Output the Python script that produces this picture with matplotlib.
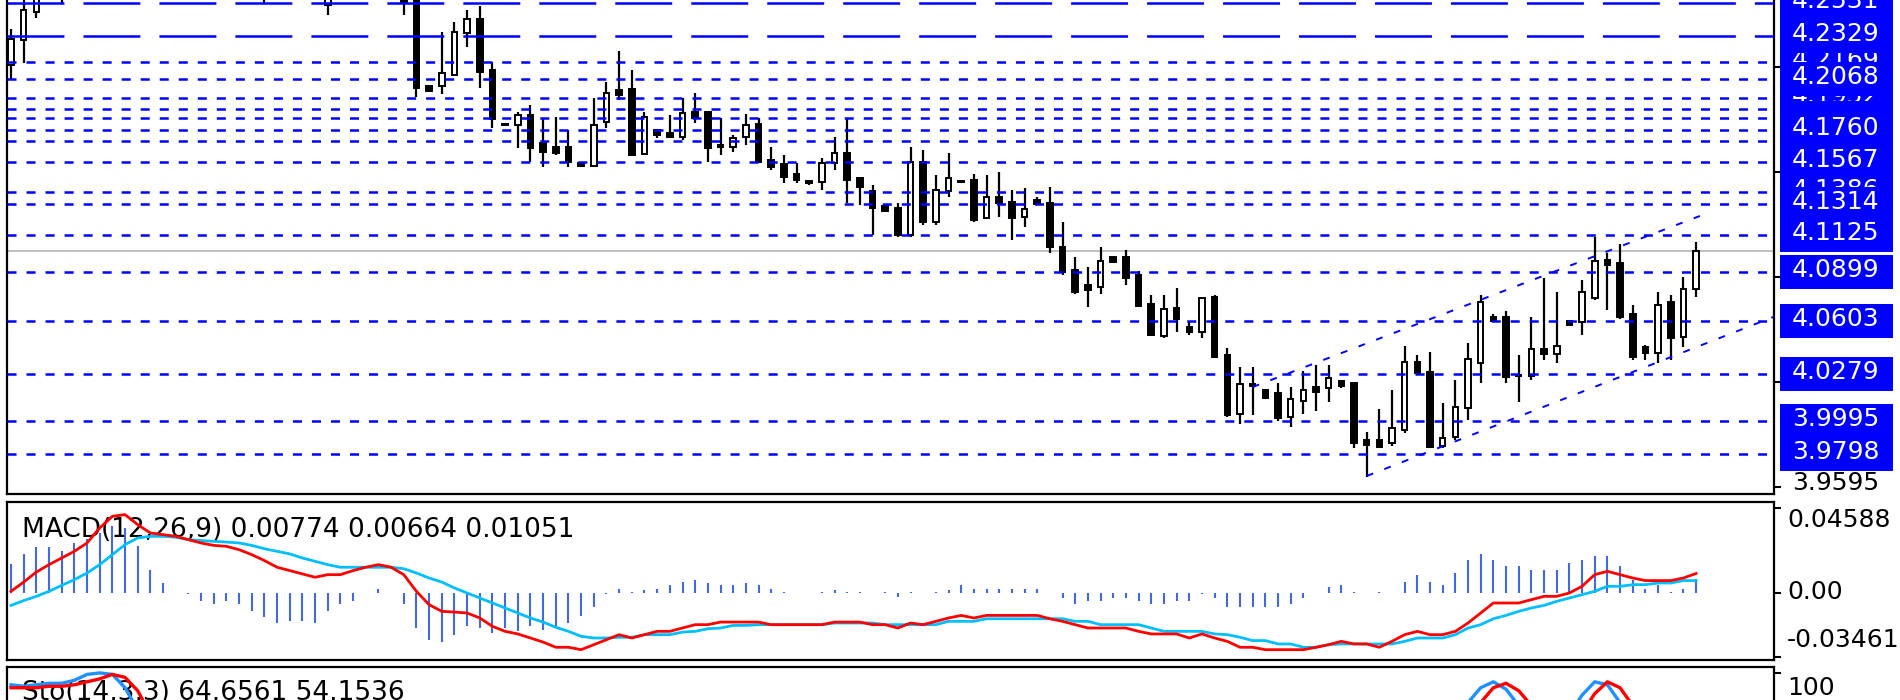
import matplotlib
matplotlib.use("Agg")
import matplotlib.pyplot as plt
from matplotlib.patches import Rectangle
import numpy as np

plt.rcParams["font.family"] = ["DejaVu Sans"]
plt.rcParams["lines.scale_dashes"] = False

# ---------------- price data (OHLC) ----------------
opens = [4.2154, 4.2305, 4.2474, 4.2600, 4.2660, 4.2590, 4.2680, 4.2760, 4.2810, 4.2860,
         4.2790, 4.2720, 4.2680, 4.2700, 4.2660, 4.2690, 4.2640, 4.2620, 4.2650, 4.2610,
         4.2600, 4.2580, 4.2620, 4.2650, 4.2680, 4.2517, 4.2660, 4.2690, 4.2650, 4.2620,
         4.2600, 4.2590, 4.2560, 4.2026, 4.2026, 4.2093, 4.2347, 4.2432, 4.2123, 4.1796,
         4.1790, 4.1850, 4.1681, 4.1657, 4.1657, 4.1560, 4.1542, 4.1808, 4.2002, 4.2008,
         4.1614, 4.1760, 4.1741, 4.1717, 4.1869, 4.1869, 4.1669, 4.1657, 4.1717, 4.1796,
         4.1578, 4.1554, 4.1493, 4.1451, 4.1445, 4.1560, 4.1620, 4.1469, 4.1390, 4.1299,
         4.1287, 4.1124, 4.1566, 4.1202, 4.1390, 4.1451, 4.1457, 4.1227, 4.1354, 4.1324,
         4.1233, 4.1336, 4.1317, 4.1051, 4.0912, 4.0821, 4.0809, 4.0990, 4.0990, 4.0881,
         4.0706, 4.0512, 4.0681, 4.0566, 4.0536, 4.0748, 4.0397, 4.0039, 4.0221, 4.0185,
         4.0167, 4.0021, 4.0118, 4.0203, 4.0197, 4.0239, 4.0227, 3.9882, 3.9882, 3.9864,
         3.9943, 4.0354, 4.0294, 3.9846, 3.9900, 4.0076, 4.0348, 4.0627, 4.0627, 4.0276,
         4.0270, 4.0433, 4.0403, 4.0603, 4.0597, 4.0742, 4.0972, 4.0954, 4.0645, 4.0445,
         4.0409, 4.0718, 4.0506, 4.0796]
highs = [4.2371, 4.2560, 4.2650, 4.2690, 4.2720, 4.2700, 4.2790, 4.2840, 4.2900, 4.2920,
         4.2830, 4.2780, 4.2740, 4.2760, 4.2720, 4.2730, 4.2700, 4.2680, 4.2690, 4.2660,
         4.2650, 4.2640, 4.2680, 4.2700, 4.2720, 4.2700, 4.2720, 4.2740, 4.2700, 4.2680,
         4.2660, 4.2650, 4.2600, 4.2032, 4.2353, 4.2414, 4.2486, 4.2511, 4.2171, 4.1800,
         4.1869, 4.1911, 4.1832, 4.1838, 4.1760, 4.1563, 4.1953, 4.2050, 4.2238, 4.2123,
         4.1869, 4.1762, 4.1850, 4.1953, 4.1984, 4.1871, 4.1832, 4.1729, 4.1857, 4.1832,
         4.1657, 4.1608, 4.1560, 4.1453, 4.1590, 4.1717, 4.1832, 4.1471, 4.1426, 4.1301,
         4.1317, 4.1657, 4.1638, 4.1487, 4.1620, 4.1453, 4.1493, 4.1487, 4.1505, 4.1396,
         4.1408, 4.1354, 4.1414, 4.1202, 4.0990, 4.0930, 4.1051, 4.0993, 4.1033, 4.0906,
         4.0760, 4.0760, 4.0803, 4.0597, 4.0745, 4.0760, 4.0439, 4.0324, 4.0324, 4.0188,
         4.0227, 4.0203, 4.0300, 4.0336, 4.0336, 4.0242, 4.0230, 3.9930, 4.0070, 4.0185,
         4.0451, 4.0397, 4.0415, 4.0106, 4.0245, 4.0470, 4.0760, 4.0645, 4.0663, 4.0397,
         4.0627, 4.0863, 4.0778, 4.0606, 4.0851, 4.1112, 4.1015, 4.1069, 4.0700, 4.0457,
         4.0778, 4.0760, 4.0870, 4.1081]
lows = [4.2062, 4.2166, 4.2438, 4.2570, 4.2529, 4.2575, 4.2650, 4.2700, 4.2770, 4.2760,
        4.2700, 4.2650, 4.2620, 4.2640, 4.2600, 4.2610, 4.2590, 4.2580, 4.2590, 4.2570,
        4.2529, 4.2560, 4.2590, 4.2610, 4.2590, 4.2456, 4.2600, 4.2620, 4.2580, 4.2570,
        4.2560, 4.2456, 4.1959, 4.1990, 4.1978, 4.2090, 4.2262, 4.2014, 4.1772, 4.1784,
        4.1651, 4.1566, 4.1535, 4.1608, 4.1535, 4.1535, 4.1535, 4.1772, 4.1941, 4.1605,
        4.1612, 4.1711, 4.1711, 4.1699, 4.1802, 4.1566, 4.1608, 4.1626, 4.1669, 4.1560,
        4.1517, 4.1439, 4.1439, 4.1426, 4.1396, 4.1517, 4.1317, 4.1305, 4.1124, 4.1267,
        4.1112, 4.1112, 4.1184, 4.1184, 4.1354, 4.1439, 4.1202, 4.1224, 4.1233, 4.1093,
        4.1172, 4.1305, 4.1015, 4.0881, 4.0766, 4.0688, 4.0766, 4.0957, 4.0821, 4.0690,
        4.0515, 4.0500, 4.0536, 4.0518, 4.0500, 4.0381, 4.0021, 3.9979, 4.0033, 4.0133,
        3.9997, 3.9961, 4.0039, 4.0058, 4.0112, 4.0197, 3.9834, 3.9658, 3.9834, 3.9846,
        3.9924, 4.0276, 3.9834, 3.9834, 3.9882, 4.0003, 4.0227, 4.0597, 4.0227, 4.0112,
        4.0245, 4.0366, 4.0348, 4.0576, 4.0518, 4.0730, 4.0669, 4.0615, 4.0366, 4.0366,
        4.0348, 4.0366, 4.0445, 4.0748]
closes = [4.2311, 4.2486, 4.2600, 4.2660, 4.2590, 4.2680, 4.2760, 4.2810, 4.2860, 4.2790,
          4.2720, 4.2680, 4.2700, 4.2660, 4.2690, 4.2640, 4.2620, 4.2650, 4.2610, 4.2600,
          4.2580, 4.2620, 4.2650, 4.2680, 4.2600, 4.2660, 4.2690, 4.2650, 4.2620, 4.2600,
          4.2590, 4.2535, 4.2014, 4.1996, 4.2105, 4.2353, 4.2432, 4.2111, 4.1826, 4.1790,
          4.1850, 4.1651, 4.1626, 4.1620, 4.1566, 4.1542, 4.1790, 4.1984, 4.1972, 4.1608,
          4.1838, 4.1729, 4.1717, 4.1863, 4.1832, 4.1651, 4.1657, 4.1711, 4.1790, 4.1566,
          4.1535, 4.1475, 4.1457, 4.1439, 4.1560, 4.1620, 4.1457, 4.1414, 4.1287, 4.1269,
          4.1124, 4.1566, 4.1202, 4.1396, 4.1469, 4.1445, 4.1214, 4.1354, 4.1317, 4.1227,
          4.1281, 4.1311, 4.1051, 4.0899, 4.0778, 4.0790, 4.0966, 4.0960, 4.0863, 4.0694,
          4.0518, 4.0675, 4.0615, 4.0536, 4.0742, 4.0384, 4.0033, 4.0221, 4.0209, 4.0136,
          4.0015, 4.0130, 4.0185, 4.0173, 4.0257, 4.0209, 3.9864, 3.9852, 3.9840, 3.9955,
          4.0354, 4.0288, 3.9840, 3.9894, 4.0082, 4.0373, 4.0718, 4.0603, 4.0264, 4.0270,
          4.0433, 4.0403, 4.0451, 4.0579, 4.0778, 4.0966, 4.0942, 4.0627, 4.0384, 4.0409,
          4.0700, 4.0500, 4.0796, 4.1027]

# ---------------- horizontal levels & labels ----------------
long_dash_levels = [4.2531, 4.2329]
dotted_levels = [4.2169, 4.2068, 4.1952, 4.1886, 4.1832, 4.1760, 4.1693, 4.1567,
                 4.1386, 4.1314, 4.1125, 4.0899, 4.0603, 4.0279, 3.9995, 3.9798]
# drawing order of the price tags (later ones cover earlier ones)
label_levels = [4.2531, 4.2169, 4.1886, 4.1952, 4.1832, 4.1693, 4.1386,
                4.2329, 4.2068, 4.1760, 4.1567, 4.1314, 4.1125, 4.0899,
                4.0603, 4.0279, 3.9995, 3.9798]
# tags whose text is completely covered by neighbouring tags in the reference
label_text_covered = [4.1886, 4.1832, 4.1693]
price_axis_ticks = [3.9595, 4.0231, 4.0867, 4.1503, 4.2139]
price_axis_label = "3.9595"

# channel lines (bar index, price)
channel_lower_idx = [107, 139.1]
channel_lower_val = [3.9664, 4.0627]
channel_upper_idx = [98, 133.3]
channel_upper_val = [4.0203, 4.1239]

# ---------------- MACD ----------------
macd_hist = [0.0157, 0.0211, 0.0247, 0.0247, 0.0229, 0.0270, 0.0293, 0.0324, 0.0360, 0.0351,
             0.0252, 0.0126, 0.0054,
             0.0, -0.0005, -0.0045, -0.0059, -0.0045, -0.0059, -0.0095, -0.0131, -0.0162,
             -0.0149, -0.0149, -0.0162, -0.0095, -0.0059, -0.0045, 0.0,
             0.0023, 0.0, -0.0059, -0.0189, -0.0252, -0.0265, -0.0229, -0.0180, -0.0189,
             -0.0216, -0.0189, -0.0203, -0.0180, -0.0198, -0.0180, -0.0162, -0.0126, -0.0077,
             -0.0005, 0.0023, 0.0005, 0.0018, 0.0023, 0.0041, 0.0059, 0.0072, 0.0054, 0.0041,
             0.0041, 0.0054, 0.0041, 0.0023, 0.0005, 0.0, 0.0, 0.0005, 0.0018, 0.0005, 0.0005,
             0.0, 0.0005,
             -0.0020, 0.0005, 0.0, 0.0005, 0.0018, 0.0041, 0.0023, 0.0023, 0.0023, 0.0023,
             0.0023, 0.0023, 0.0,
             -0.0027, -0.0059, -0.0045, -0.0045, -0.0027, -0.0027, -0.0045, -0.0059, -0.0059,
             -0.0045, -0.0045, -0.0005, -0.0027, -0.0077, -0.0077, -0.0077, -0.0077, -0.0077,
             -0.0059, -0.0027, 0.0,
             0.0030, 0.0041, 0.0005, 0.0, 0.0005, 0.0, 0.0059, 0.0095, 0.0059, 0.0041,
             0.0108, 0.0180, 0.0211, 0.0180, 0.0144, 0.0144, 0.0126, 0.0126, 0.0126, 0.0162,
             0.0180, 0.0198, 0.0198, 0.0144, 0.0072, 0.0023, 0.0041, 0.0005, 0.0023, 0.00774]
macd_red = [0.0009, 0.0059, 0.0113, 0.0153, 0.0189, 0.0225, 0.0270, 0.0351, 0.0414, 0.0423,
            0.0369, 0.0324, 0.0315, 0.0306, 0.0288, 0.0270, 0.0257, 0.0252, 0.0234, 0.0207,
            0.0175, 0.0139, 0.0121, 0.0103, 0.0085, 0.0099, 0.0099, 0.0121, 0.0139, 0.0153,
            0.0139, 0.0099,
            0.0009, -0.0063, -0.0099, -0.0103, -0.0108, -0.0135, -0.0180, -0.0207, -0.0221,
            -0.0243, -0.0265, -0.0293, -0.0293, -0.0306, -0.0279, -0.0252, -0.0225, -0.0243,
            -0.0225, -0.0207, -0.0207, -0.0189, -0.0171, -0.0171, -0.0157, -0.0157, -0.0157,
            -0.0157, -0.0171, -0.0171, -0.0171, -0.0171, -0.0171, -0.0157, -0.0157, -0.0157,
            -0.0171, -0.0171,
            -0.0189, -0.0162, -0.0171, -0.0153, -0.0135, -0.0121, -0.0135, -0.0121, -0.0121,
            -0.0121, -0.0121, -0.0121, -0.0139, -0.0153, -0.0171, -0.0189, -0.0189, -0.0189,
            -0.0189, -0.0207, -0.0221, -0.0221, -0.0221, -0.0243, -0.0221, -0.0243, -0.0261,
            -0.0293, -0.0293, -0.0306, -0.0306, -0.0306, -0.0306, -0.0293, -0.0279, -0.0261,
            -0.0275, -0.0275, -0.0293, -0.0261, -0.0225, -0.0207, -0.0225, -0.0225, -0.0207,
            -0.0162, -0.0108, -0.0054, -0.0054, -0.0054, -0.0036, -0.0018, -0.0018, 0.0000,
            0.0036, 0.0099, 0.0117, 0.0099, 0.0081, 0.0067, 0.0067, 0.0067, 0.0081, 0.01051]
macd_cyan = [-0.0067, -0.0041, -0.0018, 0.0009, 0.0041, 0.0072, 0.0108, 0.0153, 0.0207, 0.0261,
             0.0297, 0.0306, 0.0306, 0.0301, 0.0288, 0.0283, 0.0279, 0.0275, 0.0270, 0.0257,
             0.0239, 0.0225, 0.0211, 0.0189, 0.0171, 0.0153, 0.0139, 0.0139, 0.0139, 0.0139,
             0.0139, 0.0131, 0.0108, 0.0081, 0.0059, 0.0027, 0.0000, -0.0027, -0.0054, -0.0081,
             -0.0108, -0.0135, -0.0157, -0.0185, -0.0207, -0.0234,
             -0.0243, -0.0243, -0.0239, -0.0239, -0.0225, -0.0225, -0.0225, -0.0211, -0.0207,
             -0.0193, -0.0189, -0.0175, -0.0175, -0.0171, -0.0171, -0.0171, -0.0171, -0.0171,
             -0.0171, -0.0162, -0.0162, -0.0162, -0.0162, -0.0171,
             -0.0171, -0.0171, -0.0171, -0.0171, -0.0153, -0.0153, -0.0153, -0.0139, -0.0139,
             -0.0139, -0.0139, -0.0139, -0.0139, -0.0139, -0.0153, -0.0153, -0.0171, -0.0171,
             -0.0171, -0.0171, -0.0189, -0.0207, -0.0207, -0.0207, -0.0207, -0.0221, -0.0225,
             -0.0239, -0.0257, -0.0257, -0.0275, -0.0275, -0.0293, -0.0293, -0.0279, -0.0275,
             -0.0275, -0.0275, -0.0275, -0.0275, -0.0261, -0.0243, -0.0243, -0.0243, -0.0225,
             -0.0189, -0.0171, -0.0139, -0.0121, -0.0099, -0.0081, -0.0067, -0.0045, -0.0027,
             -0.0009, 0.0009, 0.0036, 0.0036, 0.0045, 0.0045, 0.0054, 0.0054, 0.0067, 0.00664]
macd_ticks = [0.04588, 0.00, -0.03461]
macd_tick_labels = ["0.04588", "0.00", "-0.03461"]
macd_title = "MACD(12,26,9) 0.00774 0.00664 0.01051"

# ---------------- Stochastic ----------------
stoch_k = [92, 91, 92, 93, 93, 95, 99, 100, 99, 90, 75, 55,
           48, 52, 60, 58, 50, 62, 55, 45, 50,
           58, 64, 70, 66, 55, 60, 72, 68, 60, 52, 40, 18,
           22, 35, 55, 62, 40, 20, 15, 18, 12, 8, 6, 5, 4,
           25, 38, 36, 22, 30, 28, 27, 40, 38, 22, 20, 24, 30, 15, 12,
           8, 6, 5, 15, 25, 20, 10, 6, 5, 4, 30, 22, 35, 40, 42,
           30, 38, 36, 32, 35, 33, 15, 8, 5, 6, 15, 22, 18, 10, 5,
           12, 10, 8, 15, 10, 6, 20, 22, 20, 15, 18, 28, 32, 38, 36,
           15, 10, 8, 20, 48, 50, 25, 18, 35,
           80, 90, 94, 89, 78,
           70, 72, 74, 72,
           85, 94, 92, 80, 60,
           45, 55, 52, 58, 64.6561]
stoch_d = [90, 90, 90, 91, 91, 92, 94, 96, 99, 97, 88, 72,
           58, 52, 53, 57, 57, 57, 56, 54, 50,
           51, 57, 64, 67, 64, 60, 62, 67, 67, 60, 51, 37,
           27, 25, 37, 51, 52, 41, 25, 18, 15, 13, 9, 6, 5,
           11, 22, 33, 32, 29, 27, 28, 32, 35, 33, 27, 22, 25, 23, 19,
           12, 9, 6, 9, 15, 20, 18, 12, 7, 5, 13, 19, 29, 32, 39,
           37, 37, 35, 35, 34, 33, 27, 19, 9, 6, 9, 14, 18, 17, 11,
           9, 9, 10, 11, 11, 10, 12, 16, 21, 19, 18, 20, 26, 33, 35,
           30, 20, 11, 13, 25, 39, 41, 31, 26,
           44, 80, 90, 93, 88, 78,
           72, 72, 73, 73,
           86, 94, 90, 78,
           62, 53, 50, 52, 54.1536]
stoch_title = "Sto(14,3,3) 64.6561 54.1536"

# ---------------- figure ----------------
W, H = 1900, 700
fig = plt.figure(figsize=(W / 100, H / 100), dpi=100)
fig.patch.set_facecolor("white")


def rect(x0, y0, x1, y1):
    return [x0 / W, 1 - y1 / H, (x1 - x0) / W, (y1 - y0) / H]


n = len(closes)
idx = np.arange(n)
XL = (-0.316, 139.15)
BLUE = "#0000FF"
PMIN, PMAX = 3.9555, 4.2547

# ---- main price panel
ax = fig.add_axes(rect(7, 0, 1774, 494))
ax.set_xlim(*XL)
ax.set_ylim(PMIN, PMAX)
ax.set_facecolor("white")
ax.spines["top"].set_visible(False)
for s in ("left", "right", "bottom"):
    ax.spines[s].set_linewidth(1.6)
    ax.spines[s].set_color("black")
ax.set_xticks([])
ax.yaxis.tick_right()
ax.set_yticks(price_axis_ticks)
ax.set_yticklabels([])
ax.tick_params(axis="y", direction="out", length=5, width=1.5, color="black")

ax.axhline(closes[-1], color="#C0C0C0", lw=1.4, zorder=2)

for i in range(n):
    o, h, l, c = opens[i], highs[i], lows[i], closes[i]
    ax.vlines(i, l, h, color="black", lw=1.6, zorder=3)
    bottom = min(o, c)
    height = max(abs(c - o), 0.0002)
    fc = "white" if c > o else "black"
    ax.add_patch(Rectangle((i - 0.22, bottom), 0.44, height, facecolor=fc,
                           edgecolor="black", lw=1.4, zorder=4))

for lv in long_dash_levels:
    ax.axhline(lv, color=BLUE, lw=1.8, ls=(0, (41, 13.7)), zorder=5)
for lv in dotted_levels:
    ax.axhline(lv, color=BLUE, lw=1.8, ls=(0, (6.5, 7.2)), zorder=5)

ax.plot(channel_lower_idx, channel_lower_val, color=BLUE, lw=1.4, ls=(0, (5, 8.6)), zorder=5)
ax.plot(channel_upper_idx, channel_upper_val, color=BLUE, lw=1.4, ls=(0, (5, 8.6)), zorder=5)

# ---- price labels column
axl = fig.add_axes(rect(1776, 0, 1900, 494))
axl.set_xlim(1776, 1900)
axl.set_ylim(PMIN, PMAX)
axl.axis("off")
px = (PMAX - PMIN) / 494.0
half = 17 * px
for k, lv in enumerate(label_levels):
    axl.add_patch(Rectangle((1780, lv - half), 113, 2 * half, facecolor=BLUE,
                            edgecolor="none", zorder=2 + 2 * k, clip_on=False))
    if lv in label_text_covered:
        continue
    axl.text(1792, lv + 2 * px, f"{lv:.4f}", color="white", fontsize=18,
             va="center", ha="left", zorder=3 + 2 * k, clip_on=False)
axl.text(1792, price_axis_ticks[0] + 4 * px, price_axis_label, color="black",
         fontsize=18, va="center", ha="left", clip_on=False)

# ---- MACD panel
axm = fig.add_axes(rect(7, 502, 1774, 660))
axm.set_xlim(*XL)
axm.set_ylim(-0.03617, 0.04912)
for s in axm.spines.values():
    s.set_linewidth(1.6)
    s.set_color("black")
axm.set_xticks([])
axm.yaxis.tick_right()
axm.set_yticks(macd_ticks)
axm.set_yticklabels([])
axm.tick_params(axis="y", direction="out", length=5, width=1.5, color="black")
axm.vlines(idx, 0, macd_hist, color="#4169E1", lw=1.5, zorder=2)
axm.plot(idx, macd_cyan, color="#00BFFF", lw=2.0, zorder=3)
axm.plot(idx, macd_red, color="#FF0000", lw=2.0, zorder=4)
axm.text(22 / W, 1 - 530 / H, macd_title, transform=fig.transFigure, fontsize=19,
         va="center", ha="left", color="black", zorder=1)
for yv, lab in zip([520, 592, 640], macd_tick_labels):
    fig.text(1787 / W, 1 - yv / H, lab, fontsize=18, va="center", ha="left", color="black")

# ---- Stochastic panel (cut by figure bottom)
axs = fig.add_axes(rect(7, 667, 1774, 827))
axs.set_xlim(*XL)
axs.set_ylim(-4, 104)
for s in axs.spines.values():
    s.set_linewidth(1.6)
    s.set_color("black")
axs.set_xticks([])
axs.yaxis.tick_right()
axs.set_yticks([100])
axs.set_yticklabels([])
axs.tick_params(axis="y", direction="out", length=5, width=1.5, color="black")
axs.plot(idx, stoch_k, color="#1E90FF", lw=2.4, zorder=3)
axs.plot(idx, stoch_d, color="#FF0000", lw=2.4, zorder=4)
axs.text(22 / W, 1 - 693 / H, stoch_title, transform=fig.transFigure, fontsize=19,
         va="center", ha="left", color="black", zorder=1)
fig.text(1787 / W, 1 - 688 / H, "100", fontsize=18, va="center", ha="left", color="black")

fig.savefig("out.png", dpi=100, facecolor="white")
